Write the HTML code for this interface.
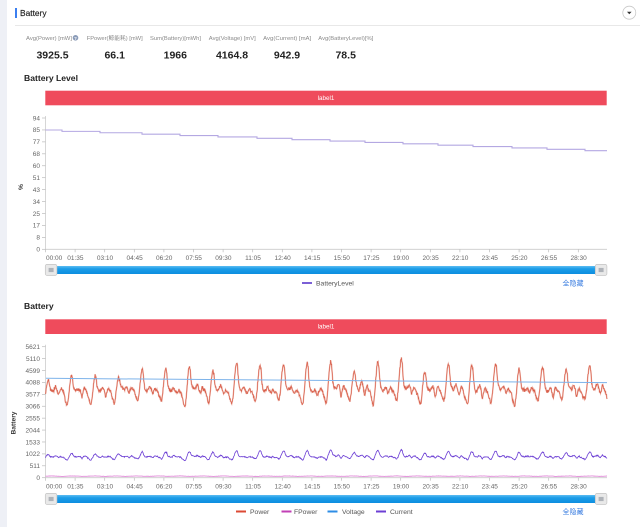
<!DOCTYPE html>
<html><head><meta charset="utf-8">
<style>
html,body{margin:0;padding:0;background:#fff;}
body{width:640px;height:527px;overflow:hidden;}
svg{display:block;font-family:"Liberation Sans","Noto Sans CJK SC",sans-serif;}
.ax{font-size:6.5px;fill:#666;}
.sl{font-size:5.8px;fill:#8a8a8a;}
.sv{font-size:10.5px;font-weight:bold;fill:#222;}
.tt{font-size:8.6px;font-weight:bold;fill:#222;}
.lg{font-size:6.8px;fill:#555;}
</style></head>
<body>
<svg id="s" width="640" height="527" viewBox="0 0 640 527" xmlns="http://www.w3.org/2000/svg">
<defs>
<linearGradient id="bg" x1="0" y1="0" x2="0" y2="1">
<stop offset="0" stop-color="#5cbcf2"/><stop offset="0.35" stop-color="#1c9de8"/><stop offset="1" stop-color="#0c8ddf"/>
</linearGradient>
</defs>
<rect x="0" y="0" width="640" height="527" fill="#fff"/>
<rect x="0" y="0" width="7" height="527" fill="#eef0f6"/>
<!-- header -->
<rect x="15" y="8" width="2" height="10" fill="#3b7ff0"/>
<text x="20" y="16" font-size="8.4px" fill="#222" stroke="#222" stroke-width="0.15">Battery</text>
<line x1="15" y1="25.5" x2="640" y2="25.5" stroke="#e8e8e8" stroke-width="1"/>
<circle cx="629.3" cy="12.7" r="6.5" fill="#fff" stroke="#c8c8c8" stroke-width="0.8"/>
<path d="M627 11.8 L631.6 11.8 L629.3 14.3 Z" fill="#333"/>
<!-- stats -->
<g text-anchor="middle">
<text class="sl" x="49" y="40" textLength="46" lengthAdjust="spacingAndGlyphs">Avg(Power) [mW]</text>
<circle cx="75.5" cy="37.8" r="2.8" fill="#8a9bb8"/>
<text x="75.5" y="39.8" font-size="4.5px" fill="#fff" font-weight="bold">?</text>
<text class="sl" x="114.7" y="40" textLength="56" lengthAdjust="spacingAndGlyphs">FPower(鲸能耗) [mW]</text>
<text class="sl" x="175.5" y="40" textLength="51" lengthAdjust="spacingAndGlyphs">Sum(Battery)[mWh]</text>
<text class="sl" x="232.3" y="40" textLength="47" lengthAdjust="spacingAndGlyphs">Avg(Voltage) [mV]</text>
<text class="sl" x="287.2" y="40" textLength="48" lengthAdjust="spacingAndGlyphs">Avg(Current) [mA]</text>
<text class="sl" x="345.8" y="40" textLength="55" lengthAdjust="spacingAndGlyphs">Avg(BatteryLevel)[%]</text>
<text class="sv" x="52.5" y="58.3">3925.5</text>
<text class="sv" x="114.7" y="58.3">66.1</text>
<text class="sv" x="175.3" y="58.3">1966</text>
<text class="sv" x="232" y="58.3">4164.8</text>
<text class="sv" x="287" y="58.3">942.9</text>
<text class="sv" x="345.7" y="58.3">78.5</text>
</g>
<!-- chart1 -->
<text class="tt" x="24" y="81.2">Battery Level</text>
<rect x="45.3" y="90.7" width="561.4" height="14.6" fill="#ef4b5c"/>
<text x="326" y="99.8" font-size="6.3px" fill="#fff" text-anchor="middle">label1</text>
<g id="c1"></g>
<!-- chart2 -->
<text class="tt" x="24" y="309.2">Battery</text>
<rect x="45.3" y="319.3" width="561.4" height="14.7" fill="#ef4b5c"/>
<text x="326" y="328.7" font-size="6.3px" fill="#fff" text-anchor="middle">label1</text>
<g id="c2"></g>
</svg>
<script>
(function(){
var NS="http://www.w3.org/2000/svg";
function el(parent,tag,attrs,txt){var e=document.createElementNS(NS,tag);for(var k in attrs)e.setAttribute(k,attrs[k]);if(txt!==undefined)e.textContent=txt;parent.appendChild(e);return e;}
function rng(seed){return function(){seed|=0;seed=seed+0x6D2B79F5|0;var t=Math.imul(seed^seed>>>15,1|seed);t=t+Math.imul(t^t>>>7,61|t)^t;return((t^t>>>14)>>>0)/4294967296;};}
var X0=45.5,X1=607,TS=29.6;
var times=["00:00","01:35","03:10","04:45","06:20","07:55","09:30","11:05","12:40","14:15","15:50","17:25","19:00","20:35","22:10","23:45","25:20","26:55","28:30"];
function axes(g,yTop,yBot,labels,axTitle,axX,axY,slY,lgY,legend){
  el(g,"line",{x1:X0,y1:yTop-2,x2:X0,y2:yBot,stroke:"#ccc","stroke-width":"0.8"});
  var n=labels.length;
  for(var i=0;i<n;i++){
    var y=yBot-(yBot-yTop)*i/(n-1);
    el(g,"line",{x1:42,y1:y,x2:X0,y2:y,stroke:"#bbb","stroke-width":"0.7"});
    el(g,"text",{"class":"ax",x:40,y:y+2.3,"text-anchor":"end"},labels[i]);
  }
  el(g,"line",{x1:X0,y1:yBot,x2:X1,y2:yBot,stroke:"#ccc","stroke-width":"0.9"});
  for(var j=0;j<times.length;j++){
    var x=X0+j*TS;
    el(g,"line",{x1:x,y1:yBot,x2:x,y2:yBot+3,stroke:"#bbb","stroke-width":"0.7"});
    if(j==0) el(g,"text",{"class":"ax",x:46,y:yBot+10.8},times[j]);
    else el(g,"text",{"class":"ax",x:x+0.3,y:yBot+10.8,"text-anchor":"middle"},times[j]);
  }
  el(g,"text",{x:axX,y:axY,"font-size":"6.7px","font-weight":"bold",fill:"#333","text-anchor":"middle",transform:"rotate(-90 "+axX+" "+axY+")"},axTitle);
  el(g,"rect",{x:56,y:slY,width:540,height:8,fill:"url(#bg)"});
  [45,595].forEach(function(hx){
    el(g,"rect",{x:hx+0.3,y:slY-1.6,width:11.6,height:11,rx:1.8,fill:"#e9e9e9",stroke:"#c4c4c4","stroke-width":"0.7"});
    el(g,"rect",{x:hx+3.6,y:slY+1.9,width:5,height:4.2,fill:"#aeb2b8"});
  });
  legend.forEach(function(l){
    el(g,"rect",{x:l[0],y:lgY-1,width:10,height:2,fill:l[1]});
    el(g,"text",{"class":"lg",x:l[2],y:lgY+2.4},l[3]);
  });
  el(g,"text",{x:573,y:lgY+2.5,"font-size":"7px",fill:"#3a7de0","text-anchor":"middle","font-family":"'Liberation Sans','Noto Sans CJK SC',sans-serif"},"全隐藏");
}
var g1=document.getElementById("c1"),g2=document.getElementById("c2");
axes(g1,118,249.3,["0","8","17","25","34","43","51","60","68","77","85","94"],"%",23,187,266,283,[[302,"#7b5fd6",316,"BatteryLevel"]]);
axes(g2,346.7,477.7,["0","511","1022","1533","2044","2555","3066","3577","4088","4599","5110","5621"],"Battery",15.5,423,495,511.5,
 [[236,"#dc4a34",250,"Power"],[281.5,"#c23fb6",294,"FPower"],[327.5,"#2d8de6",342,"Voltage"],[376,"#6c3fd4",390,"Current"]]);
var stepsX=[45.5,62,100,142,180,218,257,292,330,365,403,438,473,512,547,585,607];
var d="";
for(var i=0;i<stepsX.length-1;i++){
  var y=(130+i*1.38).toFixed(2);
  d+=(i==0?"M":"L")+stepsX[i]+" "+y+" L"+stepsX[i+1]+" "+y+" ";
}
el(g1,"path",{d:d,fill:"none",stroke:"#b4a8e2","stroke-width":"1.1"});
var R=rng(987654);
var N=1800,P=75.5,p0=84;
var peaks=[4400,4400,4250,4650,4750,4740,4550,4880,4830,4880,4950,5000,4600,4930,5080,4550,4900,4830,4880,4650,4830,4650,4830,4600];
var troughs=[],bumps=[],dips=[];
for(var k=0;k<30;k++){troughs.push(3080+R()*250);bumps.push(100+R()*260);dips.push(R()*300);}
function pk(k){return k<0?4150:peaks[Math.min(k,peaks.length-1)];}
var base=3720;
function f(s){
  var k=Math.floor((s-p0)/P),u=s-p0-k*P;
  var kk=k+2; var tr=troughs[kk]||3150, bp=bumps[kk]||200, dp=dips[kk]||100;
  var p=pk(k),nx=pk(k+1);
  if(u<48){
    var dec=u<3?p-(p-base)*0.15*u/3:base+(p-base)*0.85*Math.exp(-(u-3)/3.5);
    return dec+bp*Math.exp(-Math.pow((u-24)/5,2))-dp*Math.exp(-Math.pow((u-33)/3,2))+0.6*bp*Math.exp(-Math.pow((u-41)/3,2));
  } else if(u<60){
    return base+(tr-base)*((u-48)/12);
  } else {
    var t=(u-60)/(P-60);
    return tr+(nx-tr)*(0.5-0.5*Math.cos(Math.PI*t));
  }
}
var sx=561.5/1800;
var sc2=131/5621;
function Y2(v){return 477.7-v*sc2;}
var n1=0,n2=0,pw="",cu="",fp="";
for(var s=0;s<=N;s++){
  n1=n1*0.88+(R()-0.5)*75;
  n2=n2*0.8+(R()-0.5)*30;
  var v=f(s);
  var pv=v+n1+(R()-0.5)*120;
  var cv=905+(v+n1-3780)*0.22+n2+(R()-0.5)*25;
  var fv=66+8*Math.sin(s/11)+(R()-0.5)*10;
  var x=(X0+s*sx).toFixed(2);
  pw+=(s==0?"M":"L")+x+" "+Y2(pv).toFixed(2);
  cu+=(s==0?"M":"L")+x+" "+Y2(cv).toFixed(2);
  if(s%3==0) fp+=(s==0?"M":"L")+x+" "+Y2(fv).toFixed(2);
}
el(g2,"path",{d:fp,fill:"none",stroke:"#e08ad8","stroke-width":"0.9"});
el(g2,"path",{d:cu,fill:"none",stroke:"#6c3fd4","stroke-width":"0.8"});
el(g2,"path",{d:pw,fill:"none",stroke:"#e9a596","stroke-width":"1.4","stroke-opacity":"0.85"});
el(g2,"path",{d:pw,fill:"none",stroke:"#d23f28","stroke-width":"0.6","stroke-opacity":"0.75"});
el(g2,"line",{x1:X0+0.5,y1:Y2(4265),x2:X1,y2:Y2(4077),stroke:"#7db3ea","stroke-width":"1"});
})();
</script>
</body></html>
